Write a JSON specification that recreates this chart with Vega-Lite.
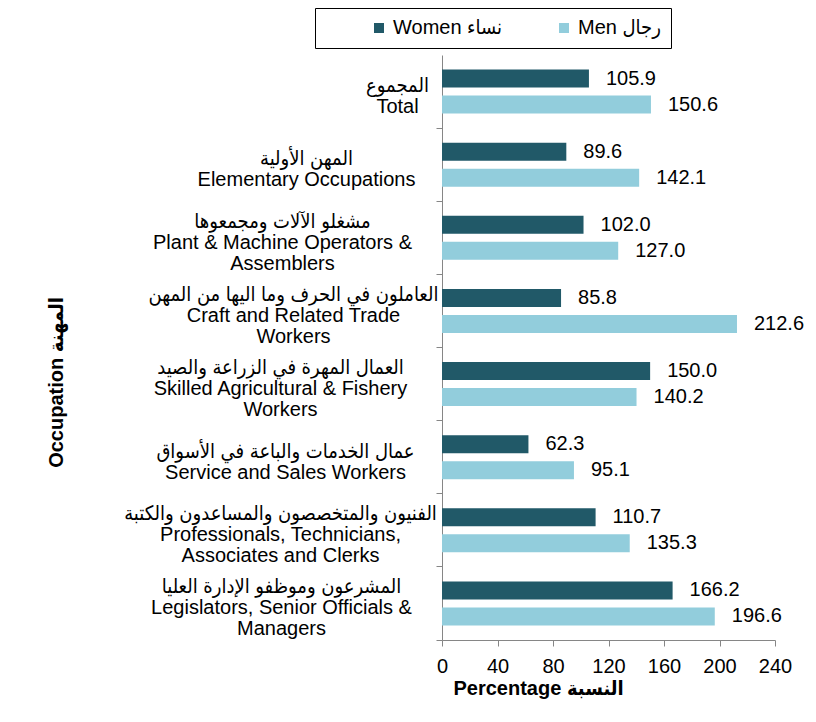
{
  "$schema": "https://vega.github.io/schema/vega-lite/v6.json",
  "width": 333,
  "height": 585,
  "autosize": {"type": "none"},
  "padding": {"left": 442, "top": 55, "right": 41, "bottom": 82},
  "background": "white",
  "config": {
    "view": {"stroke": null},
    "font": "Liberation Sans, DejaVu Sans Condensed",
    "text": {"font": "Liberation Sans"}
  },
  "data": {
    "values": [
      {"occupation": "المجموع|Total", "sex": "Women نساء", "value": 105.9},
      {"occupation": "المجموع|Total", "sex": "Men رجال", "value": 150.6},
      {"occupation": "المهن الأولية|Elementary Occupations", "sex": "Women نساء", "value": 89.6},
      {"occupation": "المهن الأولية|Elementary Occupations", "sex": "Men رجال", "value": 142.1},
      {"occupation": "مشغلو الآلات ومجمعوها|Plant & Machine Operators &|Assemblers", "sex": "Women نساء", "value": 102.0},
      {"occupation": "مشغلو الآلات ومجمعوها|Plant & Machine Operators &|Assemblers", "sex": "Men رجال", "value": 127.0},
      {"occupation": "العاملون في الحرف وما اليها من المهن|Craft and Related Trade|Workers", "sex": "Women نساء", "value": 85.8},
      {"occupation": "العاملون في الحرف وما اليها من المهن|Craft and Related Trade|Workers", "sex": "Men رجال", "value": 212.6},
      {"occupation": "العمال المهرة في الزراعة والصيد|Skilled Agricultural & Fishery|Workers", "sex": "Women نساء", "value": 150.0},
      {"occupation": "العمال المهرة في الزراعة والصيد|Skilled Agricultural & Fishery|Workers", "sex": "Men رجال", "value": 140.2},
      {"occupation": "عمال الخدمات والباعة في الأسواق|Service and Sales Workers", "sex": "Women نساء", "value": 62.3},
      {"occupation": "عمال الخدمات والباعة في الأسواق|Service and Sales Workers", "sex": "Men رجال", "value": 95.1},
      {"occupation": "الفنيون والمتخصصون والمساعدون والكتبة|Professionals, Technicians,|Associates and Clerks", "sex": "Women نساء", "value": 110.7},
      {"occupation": "الفنيون والمتخصصون والمساعدون والكتبة|Professionals, Technicians,|Associates and Clerks", "sex": "Men رجال", "value": 135.3},
      {"occupation": "المشرعون وموظفو الإدارة العليا|Legislators, Senior Officials &|Managers", "sex": "Women نساء", "value": 166.2},
      {"occupation": "المشرعون وموظفو الإدارة العليا|Legislators, Senior Officials &|Managers", "sex": "Men رجال", "value": 196.6}
    ]
  },
  "encoding": {
    "y": {
      "field": "occupation",
      "type": "nominal",
      "sort": null,
      "scale": {"paddingInner": 0, "paddingOuter": 0},
      "axis": {
        "title": "Occupation  المهنة",
        "titleFont": "Liberation Sans, DejaVu Sans Condensed",
        "titleFontSize": 20,
        "titleFontWeight": "bold",
        "titleColor": "black",
        "titleX": -386,
        "titleY": 327,
        "titleAngle": -90,
        "titleAlign": "center",
        "titleBaseline": "middle",
        "labelExpr": "split(datum.value, '|')",
        "labelFont": "Liberation Sans, DejaVu Sans Condensed",
        "labelAlign": "center",
        "labelBaseline": "middle",
        "labelFontSize": 20,
        "labelLineHeight": 21,
        "labelColor": "black",
        "labelLimit": 500,
        "labelOverlap": false,
        "labelPadding": {
          "condition": [
            {"test": "indexof(datum.value, 'Total') >= 0", "value": 39},
            {"test": "indexof(datum.value, 'Elementary') >= 0", "value": 130},
            {"test": "indexof(datum.value, 'Plant') >= 0", "value": 154},
            {"test": "indexof(datum.value, 'Craft') >= 0", "value": 143},
            {"test": "indexof(datum.value, 'Skilled') >= 0", "value": 156},
            {"test": "indexof(datum.value, 'Service') >= 0", "value": 151},
            {"test": "indexof(datum.value, 'Professionals') >= 0", "value": 156}
          ],
          "value": 155
        },
        "labelOffset": {
          "condition": [
            {"test": "indexof(datum.value, 'Total') >= 0", "value": -5.5},
            {"test": "indexof(datum.value, 'Elementary') >= 0", "value": -5.5},
            {"test": "indexof(datum.value, 'Service') >= 0", "value": -5.5}
          ],
          "value": -16
        },
        "bandPosition": 1,
        "tickSize": 6,
        "tickColor": "#868686",
        "domainColor": "#868686"
      }
    },
    "yOffset": {
      "field": "sex",
      "sort": ["Women نساء", "Men رجال"],
      "scale": {"paddingInner": 0.31, "paddingOuter": 0.56}
    },
    "x": {
      "field": "value",
      "type": "quantitative",
      "scale": {"domain": [0, 240], "nice": false},
      "axis": {
        "title": "Percentage  النسبة",
        "titleFont": "Liberation Sans, DejaVu Sans Condensed",
        "titleFontSize": 20,
        "titleFontWeight": "bold",
        "titleColor": "black",
        "titleX": 11,
        "titleY": 54,
        "titleAlign": "left",
        "titleBaseline": "alphabetic",
        "values": [0, 40, 80, 120, 160, 200, 240],
        "labelFont": "Liberation Sans",
        "labelFontSize": 20,
        "labelColor": "black",
        "labelPadding": 10,
        "labelFlush": false,
        "tickSize": 6,
        "tickColor": "#868686",
        "domainColor": "#868686",
        "grid": false
      }
    }
  },
  "layer": [
    {
      "mark": {"type": "bar"},
      "encoding": {
        "color": {
          "field": "sex",
          "type": "nominal",
          "scale": {"domain": ["Women نساء", "Men رجال"], "range": ["#215968", "#92CDDC"]},
          "legend": {
            "title": null,
            "orient": "none",
            "direction": "horizontal",
            "legendX": -127,
            "legendY": -47,
            "strokeColor": "black",
            "fillColor": "white",
            "padding": 10,
            "symbolType": "square",
            "symbolSize": 100,
            "symbolStrokeWidth": 0,
            "symbolOffset": 44,
            "labelOffset": 4,
            "labelFont": "Liberation Sans, DejaVu Sans Condensed",
            "labelFontSize": 20,
            "labelColor": "black",
            "columnPadding": 7
          }
        }
      }
    },
    {
      "mark": {"type": "text", "align": "left", "baseline": "middle", "dx": 17, "fontSize": 20, "color": "black"},
      "encoding": {
        "text": {"field": "value", "type": "quantitative", "format": ".1f"}
      }
    }
  ]
}
